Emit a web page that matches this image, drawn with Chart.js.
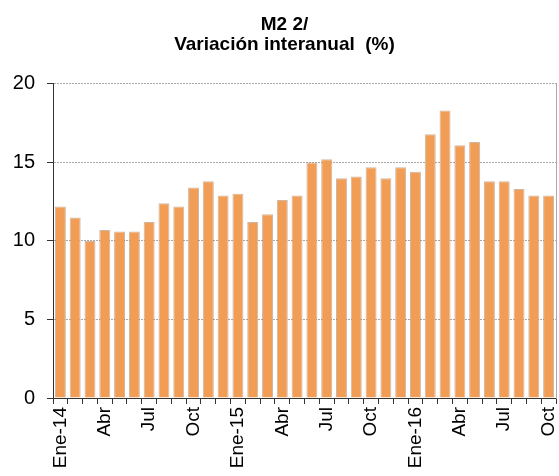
<!DOCTYPE html>
<html>
<head>
<meta charset="utf-8">
<script src="https://cdn.jsdelivr.net/npm/chart.js@4.4.1/dist/chart.umd.min.js"></script>
<style>
  body { margin: 0; background: #fff; }
</style>
</head>
<body>
<canvas id="myChart" width="559" height="476"></canvas>
<script>
// Ene-14 .. Oct-16
const categories = [
  "Ene-14", "Feb-14", "Mar-14", "Abr-14", "May-14", "Jun-14", "Jul-14", "Ago-14", "Sep-14", "Oct-14", "Nov-14", "Dic-14",
  "Ene-15", "Feb-15", "Mar-15", "Abr-15", "May-15", "Jun-15", "Jul-15", "Ago-15", "Sep-15", "Oct-15", "Nov-15", "Dic-15",
  "Ene-16", "Feb-16", "Mar-16", "Abr-16", "May-16", "Jun-16", "Jul-16", "Ago-16", "Sep-16", "Oct-16"
];
const tickLabels = [
  "Ene-14", "", "", "Abr", "", "", "Jul", "", "", "Oct", "", "",
  "Ene-15", "", "", "Abr", "", "", "Jul", "", "", "Oct", "", "",
  "Ene-16", "", "", "Abr", "", "", "Jul", "", "", "Oct"
];
const m2Values = [
  12.2, 11.5, 10.0, 10.7, 10.6, 10.6, 11.2, 12.4, 12.2, 13.4, 13.8, 12.9,
  13.0, 11.2, 11.7, 12.6, 12.9, 15.0, 15.2, 14.0, 14.1, 14.7, 14.0, 14.7,
  14.4, 16.8, 18.3, 16.1, 16.3, 13.8, 13.8, 13.3, 12.9, 12.9
];
const yTicks = [0, 5, 10, 15, 20];

const FONT = "'Liberation Sans', Arial, sans-serif";

const ctx = document.getElementById("myChart").getContext("2d");
const chart = new Chart(ctx, {
  type: "bar",
  data: {
    labels: categories,
    datasets: [
      {
        label: "M2",
        data: m2Values,
        backgroundColor: "#F29D55",
        borderColor: "rgba(160,110,70,0.5)",
        borderWidth: 1,
        barPercentage: 0.74,
        categoryPercentage: 1.0,
      },
    ],
  },
  options: {
    responsive: false,
    animation: false,
    layout: { padding: { left: 13, right: 3, top: 0, bottom: 0 } },
    plugins: {
      legend: { display: false },
      tooltip: { enabled: false },
      title: {
        display: true,
        text: ["M2 2/", "Variación interanual  (%)"],
        color: "#000",
        font: { family: FONT, size: 19, weight: "bold", lineHeight: 1.05 },
        padding: { top: 15, bottom: 29 },
      },
    },
    scales: {
      x: {
        grid: {
          offset: true,
          drawOnChartArea: false,
          color: "#333",
          tickLength: 6,
        },
        border: { color: "#333" },
        ticks: {
          autoSkip: false,
          minRotation: 90,
          maxRotation: 90,
          padding: 3,
          color: "#000",
          font: { family: FONT, size: 19 },
          callback: (val, i) => tickLabels[i],
        },
        afterFit: (scale) => {
          scale.height = 78;
          scale.paddingLeft = 0;
          scale.paddingRight = 0;
        },
      },
      y: {
        min: 0,
        max: 20,
        afterBuildTicks: (scale) => { scale.ticks = yTicks.map((v) => ({ value: v })); },
        grid: {
          color: (c) => (c.tick && c.tick.value === 0 ? "#333" : "#aaa"),
          tickColor: "#333",
          tickLength: 6,
        },
        border: { color: "#333", dash: [2, 1] },
        ticks: {
          padding: 12,
          color: "#000",
          font: { family: FONT, size: 20 },
        },
        afterFit: (scale) => {
          scale.width = 40;
          scale.paddingTop = 0;
          scale.paddingBottom = 0;
        },
      },
      yRight: {
        position: "right",
        min: 0,
        max: 20,
        grid: { drawOnChartArea: false, drawTicks: false },
        border: { color: "#aaa" },
        ticks: { display: false },
        afterFit: (scale) => { scale.width = 0; },
      },
    },
  },
});
</script>
</body>
</html>
